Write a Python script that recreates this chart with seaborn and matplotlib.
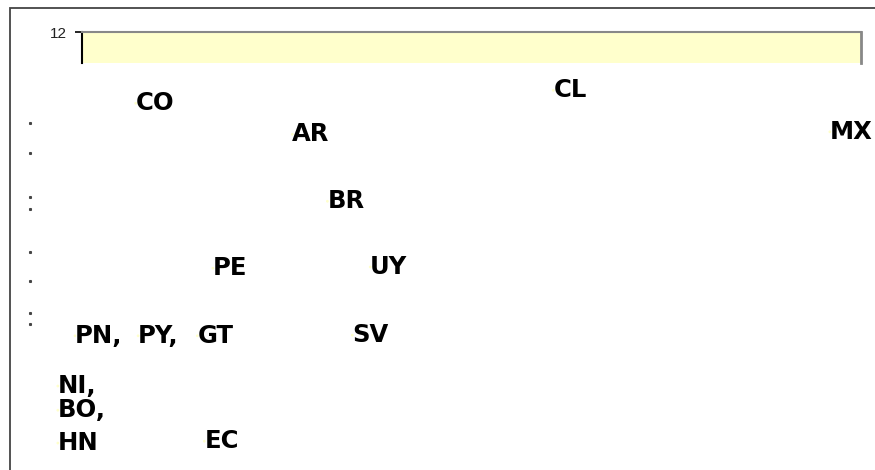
import numpy as np
import pandas as pd
import seaborn as sns
import matplotlib.pyplot as plt
from matplotlib.patches import Rectangle

# country codes and their (x, y) positions
codes = ["CO", "CL", "AR", "MX", "BR", "PE", "UY", "PN,", "PY,", "GT", "SV", "NI,", "BO,", "HN", "EC"]
x_vals = [0.69, 6.05, 2.70, 9.60, 3.15, 1.68, 3.70, -0.09, 0.72, 1.48, 3.47, -0.31, -0.31, -0.31, 1.57]
y_vals = [10.85, 11.06, 10.35, 10.39, 9.27, 8.19, 8.21, 7.10, 7.10, 7.10, 7.11, 6.29, 5.90, 5.37, 5.40]

# leftover tick marks on the left
stray_y = [10.53, 10.05, 9.34, 9.15, 8.45, 7.98, 7.47, 7.29]

sns.set_style("white")
plt.rcParams['font.family'] = ['DejaVu Sans']

df = pd.DataFrame({"code": codes, "x": x_vals, "y": y_vals})

fig = plt.figure(figsize=(8.75, 4.7), dpi=100)

# outer chart frame
fig.patches.append(Rectangle((10 / 875, -0.05), 1.0, 1 - 8 / 470 + 0.05,
                             transform=fig.transFigure, fill=False,
                             edgecolor="#444444", linewidth=1.3))

ax = fig.add_axes([82 / 875, 1 - 63 / 470, (861 - 82) / 875, 31 / 470])
ax.set_facecolor("#ffffcc")
ax.set_xlim(0, 10)
ax.set_ylim(11.5, 12)

sns.scatterplot(data=df, x="x", y="y", ax=ax, s=4, color="#ffffcc",
                edgecolor="none", clip_on=False, legend=False)

for _, r in df.iterrows():
    ax.text(r["x"], r["y"], r["code"], ha="left", va="center",
            fontsize=17.5, fontweight="bold", color="black", clip_on=False)

ax.plot([-0.67] * len(stray_y), stray_y, linestyle="none", marker="s",
        markersize=1.2, color="#444444", clip_on=False)

ax.set_xticks([])
ax.set_yticks([12])
ax.set_yticklabels(["12"], fontfamily="Liberation Sans", fontsize=11, color="#222222")
ax.tick_params(axis="y", length=5, width=1.2, color="black", left=True, pad=6)
ax.set_xlabel("")
ax.set_ylabel("")

ax.spines["left"].set_color("black")
ax.spines["left"].set_linewidth(1.5)
ax.spines["top"].set_color("#888888")
ax.spines["top"].set_linewidth(1.5)
ax.spines["right"].set_color("#888888")
ax.spines["right"].set_linewidth(2)
ax.spines["bottom"].set_visible(False)

fig.savefig("out.png", dpi=100)
